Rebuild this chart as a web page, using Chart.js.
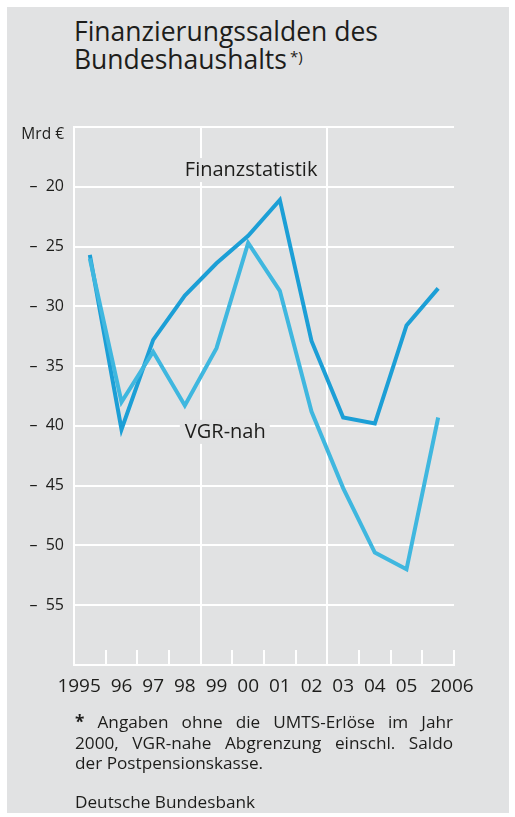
<!DOCTYPE html>
<html>
<head>
<meta charset="utf-8">
<script src="https://cdn.jsdelivr.net/npm/chart.js@4.4.1/dist/chart.umd.min.js"></script>
<style>
  html, body { margin: 0; padding: 0; background: #ffffff; }
  body { width: 515px; height: 817px; position: relative; overflow: hidden; font-family: "Open Sans", sans-serif; color: #1d1d1b; }
  #panel { position: absolute; left: 7px; top: 7px; width: 502px; height: 806px; background: #e1e2e3; }
  #title { position: absolute; left: 74px; top: 17px; font-size: 26.5px; line-height: 28px; color: #1d1d1b; white-space: nowrap; }
  #title sup { font-size: 15px; position: relative; top: -3px; vertical-align: top; margin-left: 3px; }
  #note { position: absolute; left: 75px; top: 712px; width: 378px; font-size: 17.2px; line-height: 20.5px; color: #1d1d1b; }
  #note .j { text-align: justify; text-align-last: justify; }
  #note .src { margin-top: 18.5px; }
  #wrap { position: absolute; left: 0; top: 0; width: 515px; height: 817px; }
  canvas { display: block; }
</style>
</head>
<body>
<div id="panel"></div>
<div id="title">Finanzierungssalden des<br>Bundeshaushalts<sup>*)</sup></div>
<div id="wrap"><canvas id="c" width="515" height="817"></canvas></div>
<div id="note">
  <div class="j"><b>*</b> Angaben ohne die UMTS-Erlöse im Jahr</div>
  <div class="j">2000, VGR-nahe Abgrenzung einschl. Saldo</div>
  <div>der Postpensionskasse.</div>
  <div class="src">Deutsche Bundesbank</div>
</div>
<script>
const years = ["1995", "96", "97", "98", "99", "00", "01", "02", "03", "04", "05", "2006"];
const finanzstatistik = [-25.7, -40.3, -32.8, -29.1, -26.4, -24.1, -21.1, -32.9, -39.3, -39.8, -31.6, -28.5];
const vgrNah = [-26.0, -38.0, -33.8, -38.3, -33.5, -24.7, -28.7, -38.8, -45.2, -50.6, -52.0, -39.3];
const yMin = -60, yMax = -15, yStep = 5;
const unitLabel = "Mrd €";
const seriesLabels = ["Finanzstatistik", "VGR-nah"];
const labelAnchors = [{ cat: 3, val: -18.6 }, { cat: 3, val: -40.5 }];

const TEXT = "#1d1d1b";
const BG = "#e1e2e3";
const FONT = '"Open Sans", sans-serif';

const decor = {
  id: "decor",
  beforeDatasetsDraw(chart) {
    const { ctx, chartArea, scales: { x, y } } = chart;
    ctx.save();
    // short inner tick marks at year boundaries
    ctx.strokeStyle = "#ffffff";
    ctx.lineWidth = 2;
    for (let i = 0; i <= years.length; i++) {
      const px = Math.round(x.getPixelForValue(i - 0.5));
      ctx.beginPath();
      ctx.moveTo(px, chartArea.bottom);
      ctx.lineTo(px, chartArea.bottom - 15);
      ctx.stroke();
    }
    // label backgrounds + labels
    ctx.font = "20px " + FONT;
    ctx.textBaseline = "middle";
    ctx.textAlign = "left";
    seriesLabels.forEach((t, k) => {
      const a = labelAnchors[k];
      const lx = x.getPixelForValue(a.cat);
      const ly = y.getPixelForValue(a.val);
      const w = ctx.measureText(t).width;
      ctx.fillStyle = BG;
      ctx.fillRect(lx - 5, ly - 12, w + 9, 24);
      ctx.fillStyle = TEXT;
      ctx.fillText(t, lx, ly);
    });
    // x labels
    ctx.font = "19px " + FONT;
    ctx.fillStyle = TEXT;
    ctx.textBaseline = "middle";
    years.forEach((t, i) => {
      const px = x.getPixelForValue(i);
      let align = "center", dx = 0;
      if (i === 0) { align = "right"; dx = 11; }
      else if (i === years.length - 1) { align = "left"; dx = -8; }
      ctx.textAlign = align;
      ctx.fillText(t, px + dx, chartArea.bottom + 22);
    });
    // unit label
    ctx.font = "15.5px " + FONT;
    ctx.textAlign = "right";
    ctx.fillText(unitLabel, chartArea.left - 10, y.getPixelForValue(yMax) + 8);
    ctx.restore();
  }
};

new Chart(document.getElementById("c"), {
  type: "line",
  data: {
    labels: years,
    datasets: [
      {
        label: seriesLabels[1],
        data: vgrNah,
        borderColor: "#3fb7df",
        borderWidth: 4,
        pointRadius: 0,
        tension: 0,
        borderJoinStyle: "miter",
        fill: false
      },
      {
        label: seriesLabels[0],
        data: finanzstatistik,
        borderColor: "#1c9fd6",
        borderWidth: 4,
        pointRadius: 0,
        tension: 0,
        borderJoinStyle: "miter",
        fill: false
      }
    ]
  },
  options: {
    responsive: false,
    animation: false,
    devicePixelRatio: 1,
    layout: { padding: { left: 0, top: 127, right: 61, bottom: 122 } },
    plugins: { legend: { display: false }, tooltip: { enabled: false }, title: { display: false } },
    scales: {
      x: {
        type: "category",
        offset: true,
        grid: {
          offset: true,
          drawTicks: false,
          lineWidth: 2,
          color: (c) => (c.index % 4 === 0 ? "#ffffff" : "rgba(0,0,0,0)")
        },
        border: { display: true, color: "#ffffff", width: 2 },
        ticks: { display: false },
        afterFit: (s) => { s.height = 30; }
      },
      y: {
        min: yMin,
        max: yMax,
        grid: { drawTicks: false, color: "#ffffff", lineWidth: 2 },
        border: { display: true, color: "#ffffff", width: 2 },
        ticks: {
          stepSize: yStep,
          padding: 10,
          color: TEXT,
          font: { family: FONT, size: 16 },
          callback: (v) => (v === yMin || v === yMax ? "" : "–  " + Math.abs(v))
        },
        afterFit: (s) => { s.width = 74; }
      }
    }
  },
  plugins: [decor]
});
</script>
</body>
</html>
